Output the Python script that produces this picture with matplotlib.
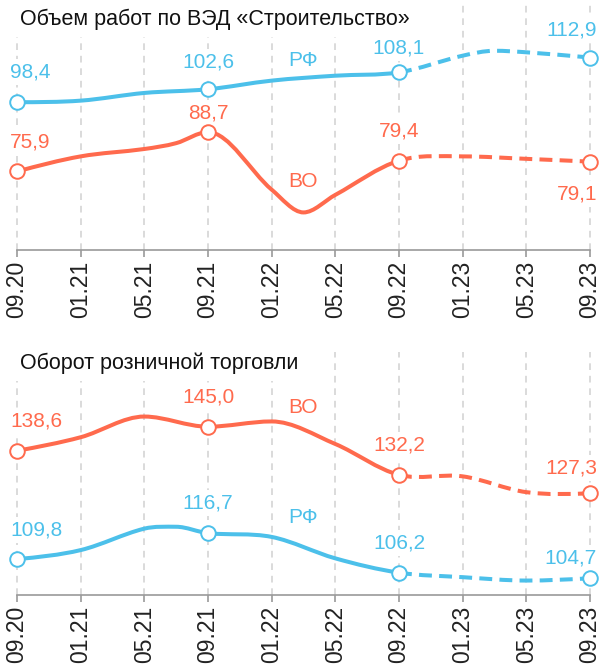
import numpy as np
import matplotlib
matplotlib.use("Agg")
import matplotlib.pyplot as plt
from matplotlib.path import Path
from matplotlib.patches import PathPatch

plt.rcParams['font.family'] = ['Liberation Sans', 'DejaVu Sans']

BLUE = '#4cc0ea'
ORANGE = '#ff6a4d'

tick_labels = ['09.20', '01.21', '05.21', '09.21', '01.22', '05.22',
               '09.22', '01.23', '05.23', '09.23']
tick_months = [0, 4, 8, 12, 16, 20, 24, 28, 32, 36]
marker_months = [0, 12, 24, 36]
forecast_from = 24  # after 09.22 the line is dashed

# Объем работ по ВЭД «Строительство»
constr_rf_months = [0, 4, 8, 12, 16, 20, 24, 28, 30, 32, 36]
constr_rf = [98.4, 98.9, 101.4, 102.6, 105.4, 107.0, 108.1, 113.5, 115.1, 114.6, 112.9]
constr_vo_months = [0, 4, 8, 10, 12, 16, 18, 20, 24, 28, 32, 36]
constr_vo = [75.9, 80.8, 83.2, 85.1, 88.7, 70.0, 62.6, 68.3, 79.4, 80.8, 80.0, 79.1]

# Оборот розничной торговли
retail_vo_months = [0, 4, 8, 12, 16, 20, 24, 28, 32, 36]
retail_vo = [138.6, 142.2, 147.7, 145.0, 146.4, 140.4, 132.2, 131.8, 127.6, 127.3]
retail_rf_months = [0, 4, 8, 10, 12, 16, 20, 24, 28, 32, 36]
retail_rf = [109.8, 112.2, 117.9, 118.4, 116.7, 115.7, 110.0, 106.2, 105.0, 104.1, 104.7]


def smooth_slopes(x, y):
    # catmull-rom tangents, flat at local extrema
    x = np.asarray(x, float)
    y = np.asarray(y, float)
    n = len(x)
    m = np.zeros(n)
    for i in range(1, n - 1):
        s0 = y[i] - y[i - 1]
        s1 = y[i + 1] - y[i]
        if s0 * s1 <= 0:
            m[i] = 0.0
        else:
            m[i] = (y[i + 1] - y[i - 1]) / (x[i + 1] - x[i - 1])
    h = x[1] - x[0]
    m[0] = (3 * (y[1] - y[0]) / h - m[1]) / 2
    h = x[-1] - x[-2]
    m[-1] = (3 * (y[-1] - y[-2]) / h - m[-2]) / 2
    return m


def curve_path(x, y, m, i0, i1):
    verts = [(x[i0], y[i0])]
    codes = [Path.MOVETO]
    for i in range(i0, i1):
        h = x[i + 1] - x[i]
        verts += [(x[i] + h / 3, y[i] + m[i] * h / 3),
                  (x[i + 1] - h / 3, y[i + 1] - m[i + 1] * h / 3),
                  (x[i + 1], y[i + 1])]
        codes += [Path.CURVE4] * 3
    return Path(verts, codes)


def draw_series(ax, months, values, color, labels):
    m = smooth_slopes(months, values)
    k = months.index(forecast_from)
    solid = PathPatch(curve_path(months, values, m, 0, k), fill=False,
                      edgecolor=color, lw=2.9, capstyle='round', zorder=3)
    dashed = PathPatch(curve_path(months, values, m, k, len(months) - 1), fill=False,
                       edgecolor=color, lw=2.9, capstyle='butt', zorder=3,
                       linestyle=(0, (3.2, 1.8)))
    ax.add_patch(solid)
    ax.add_patch(dashed)
    mv = [values[months.index(mm)] for mm in marker_months]
    ax.plot(marker_months, mv, 'o', ms=10.5, mfc='white', mec=color, mew=1.4,
            zorder=5, clip_on=False)
    for mm, v, (ha, dx, dy) in zip(marker_months, mv, labels):
        ax.annotate(f"{v:.1f}".replace('.', ','), (mm, v), xytext=(dx, dy),
                    textcoords='offset pixels', ha=ha, va='center', fontsize=15,
                    color=color, zorder=4,
                    bbox=dict(fc='white', ec='none', pad=2.5))


def style_axis(ax, ylim):
    ax.set_xlim(0, 36)
    ax.set_ylim(*ylim)
    for s in ['top', 'left', 'right']:
        ax.spines[s].set_visible(False)
    ax.spines['bottom'].set_color('#9a9a9a')
    ax.spines['bottom'].set_linewidth(1.2)
    ax.set_yticks([])
    ax.set_xticks(tick_months)
    ax.set_xticklabels(tick_labels, rotation=90, fontsize=16.5, color='#222222')
    ax.tick_params(axis='x', length=5, width=1.2, color='#9a9a9a', pad=3)
    ax.vlines(tick_months, ylim[0], ylim[1], colors='#d4d4d4', lw=1.2,
              linestyles=(0, (4, 3.5)), zorder=1, clip_on=False)
    ax.set_facecolor('none')


fig = plt.figure(figsize=(6.01, 6.66), dpi=100)
W, H = 601, 666
ax1 = fig.add_axes([17 / W, (H - 250) / H, 573 / W, 245 / H])
ax2 = fig.add_axes([17 / W, (H - 595) / H, 573 / W, 243 / H])

style_axis(ax1, (50.4, 129.96))
style_axis(ax2, (100.26, 164.86))

draw_series(ax1, constr_rf_months, constr_rf, BLUE,
            [('left', -7, 30), ('center', 0, 27), ('center', 0, 24), ('right', 7, 28)])
draw_series(ax1, constr_vo_months, constr_vo, ORANGE,
            [('left', -7, 29), ('center', 0, 19), ('center', 0, 30), ('right', 7, -32)])
draw_series(ax2, retail_vo_months, retail_vo, ORANGE,
            [('left', -7, 30), ('center', 0, 30), ('center', 0, 30), ('right', 7, 25)])
draw_series(ax2, retail_rf_months, retail_rf, BLUE,
            [('left', -7, 29), ('center', 0, 30), ('center', 0, 30), ('right', 7, 20)])

ax1.text(18, 111.9, 'РФ', color=BLUE, fontsize=15, ha='center', va='center')
ax1.text(18, 72.6, 'ВО', color=ORANGE, fontsize=15, ha='center', va='center')
ax2.text(18, 150.2, 'ВО', color=ORANGE, fontsize=15, ha='center', va='center')
ax2.text(18, 120.8, 'РФ', color=BLUE, fontsize=15, ha='center', va='center')

fig.text(20 / W, 1 - 19 / H, 'Объем работ по ВЭД «Строительство»', fontsize=15.5,
         ha='left', va='center', color='#111111',
         bbox=dict(fc='white', ec='none', pad=5))
fig.text(20 / W, 1 - 363 / H, 'Оборот розничной торговли', fontsize=15.5,
         ha='left', va='center', color='#111111',
         bbox=dict(fc='white', ec='none', pad=5))

fig.savefig('out.png', dpi=100)
